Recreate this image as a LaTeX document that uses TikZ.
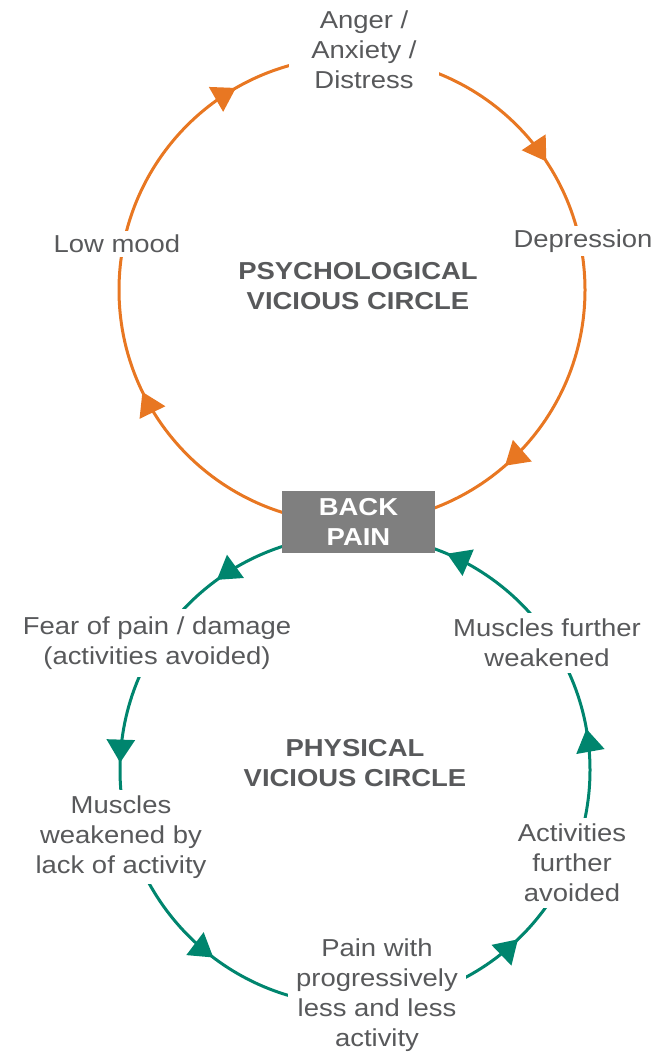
\documentclass[tikz,border=0pt]{standalone}
\usepackage{fontspec}
\setmainfont{Liberation Sans}[FakeStretch=1.12]
\usetikzlibrary{arrows.meta,decorations.markings}
\definecolor{orangec}{RGB}{232,119,34}
\definecolor{greenc}{RGB}{0,133,110}
\definecolor{textc}{RGB}{88,89,91}
\definecolor{boxc}{RGB}{127,127,127}
\pgfdeclarelayer{bg}
\pgfsetlayers{bg,main}
\begin{document}
\begin{tikzpicture}[x=1pt,y=1pt,
  lab/.style={text=textc, font=\fontsize{24.5}{30}\selectfont, align=center, fill=white, inner sep=4pt},
  head/.style={text=textc, font=\fontsize{24.5}{30}\selectfont\bfseries, align=center},
  painbox/.style={fill=boxc, text=white, font=\fontsize{24.5}{30}\selectfont\bfseries, align=center,
    minimum width=153pt, minimum height=62pt, inner sep=0pt},
  ring/.style={line width=3pt}
]
\useasboundingbox (0,0) rectangle (667,-1054);
\coordinate (oc) at (352,-290);
\coordinate (gc) at (355,-770);

% psychological circle labels
\node[lab, inner xsep=22pt, inner ysep=6pt] (anger) at (364,-50) {Anger /\\Anxiety /\\Distress};
\node[lab] (depr) at (583,-241) {Depression};
\node[lab] (low) at (117,-244) {Low mood};
\node[head] (psych) at (358,-286) {PSYCHOLOGICAL\\VICIOUS CIRCLE};

% back pain
\node[painbox] (back) at (358.5,-522) {BACK\\PAIN};

% physical circle labels
\node[lab, inner ysep=8pt] (fear) at (157,-643) {Fear of pain / damage\\(activities avoided)};
\node[lab, inner ysep=6pt] (mfw) at (547,-643) {Muscles further\\weakened};
\node[head] (phys) at (355,-763) {PHYSICAL\\VICIOUS CIRCLE};
\node[lab, inner ysep=6pt] (mwl) at (121,-837) {Muscles\\weakened by\\lack of activity};
\node[lab, inner ysep=6pt] (act) at (572,-863) {Activities\\further\\avoided};
\node[lab, inner xsep=8pt] (painw) at (377,-995) {Pain with\\progressively\\less and less\\activity};

\begin{pgfonlayer}{bg}
\draw[ring, orangec,
  decoration={markings,
    mark=at position 0.136 with {\arrow{Triangle[length=23pt,width=28pt]}},
    mark=at position 0.428 with {\arrow{Triangle[length=23pt,width=28pt]}},
    mark=at position 0.667 with {\arrow{Triangle[length=23pt,width=28pt]}},
    mark=at position 0.907 with {\arrow{Triangle[length=23pt,width=28pt]}}},
  postaction=decorate]
  (oc) ++(0:233) arc[start angle=360, end angle=0, radius=233];
\draw[ring, greenc,
  decoration={markings,
    mark=at position 0.028 with {\arrow{Triangle[length=23pt,width=28pt]}},
    mark=at position 0.186 with {\arrow{Triangle[length=23pt,width=28pt]}},
    mark=at position 0.350 with {\arrow{Triangle[length=23pt,width=28pt]}},
    mark=at position 0.495 with {\arrow{Triangle[length=23pt,width=28pt]}},
    mark=at position 0.647 with {\arrow{Triangle[length=23pt,width=28pt]}},
    mark=at position 0.872 with {\arrow{Triangle[length=23pt,width=28pt]}}},
  postaction=decorate]
  (gc) ++(0:235) arc[start angle=0, end angle=360, radius=235];
\end{pgfonlayer}
\end{tikzpicture}
\end{document}
